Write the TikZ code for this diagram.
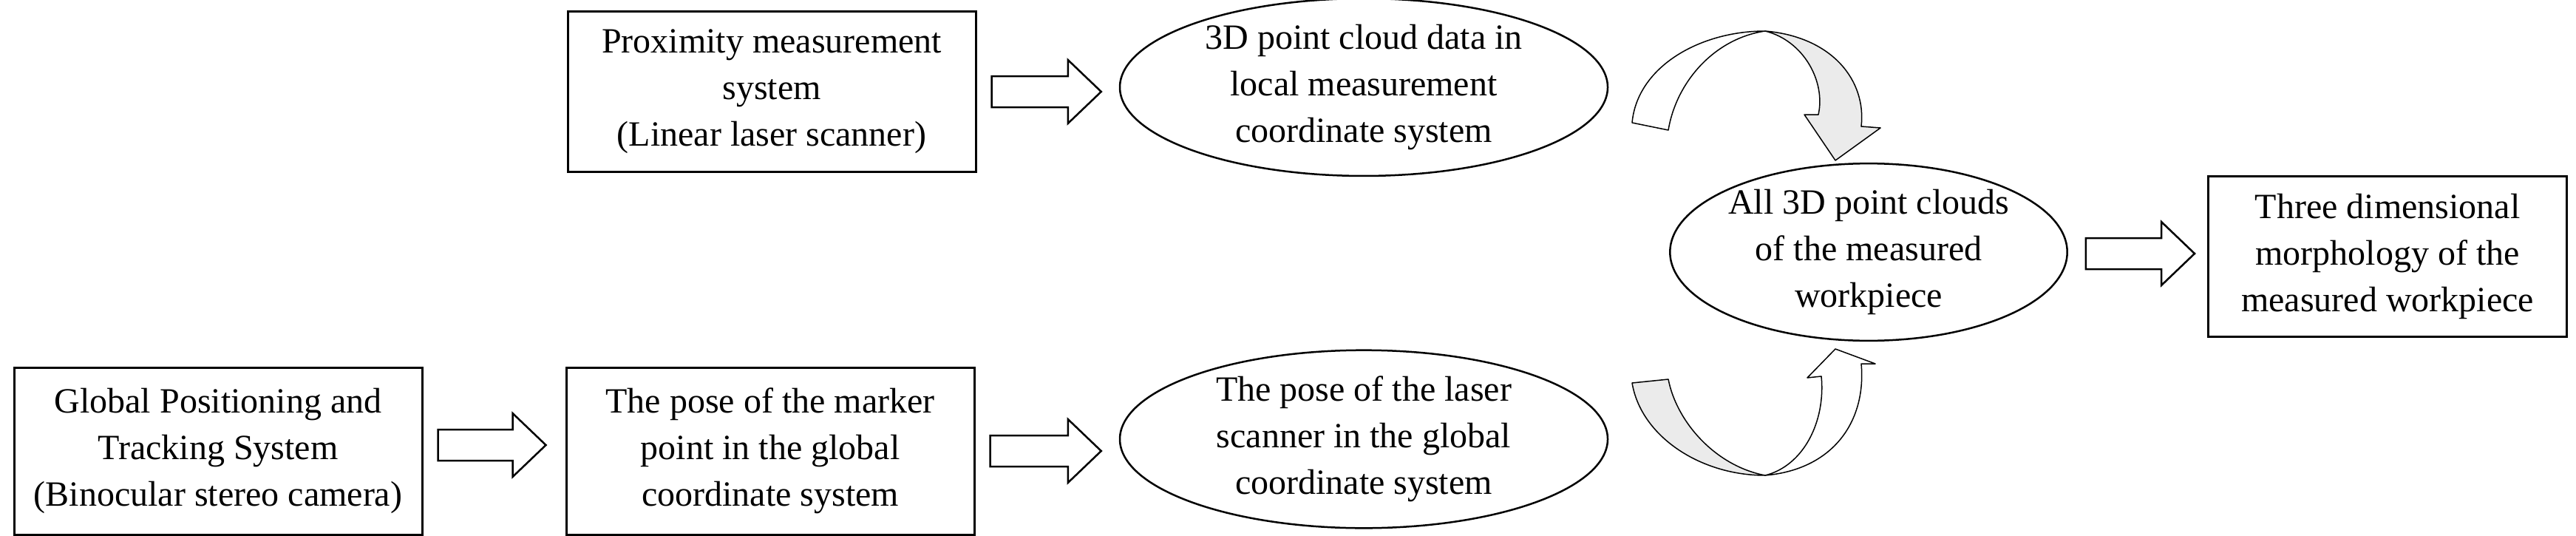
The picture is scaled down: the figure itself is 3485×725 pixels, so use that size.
\documentclass[tikz,border=0pt]{standalone}
\usepackage{fontspec}
\setmainfont{Liberation Serif}
\usetikzlibrary{shapes.geometric,calc}
\tikzset{
  box/.style={draw,line width=3pt,rectangle,inner sep=0pt,align=center,font=\fontsize{48}{63}\selectfont},
  ell/.style={draw,line width=2.5pt,ellipse,inner sep=0pt,align=center,font=\fontsize{48}{63}\selectfont},
  barrow/.style={draw,line width=2.5pt,fill=white,line join=miter},
  band/.style={draw,line width=1.5pt,line join=round}
}
\newcommand{\blockarr}[2]{%
  \draw[barrow] ($(#1)+(0,-21)$) -- ($(#2)+(-45,-21)$) -- ($(#2)+(-45,-43)$) -- (#2)
    -- ($(#2)+(-45,43)$) -- ($(#2)+(-45,21)$) -- ($(#1)+(0,21)$) -- cycle;}
\begin{document}
\begin{tikzpicture}[x=1pt,y=-1pt]
\useasboundingbox (0,0) rectangle (3485,725);
\node[box,minimum width=552,minimum height=216] (A) at (1044,124) {Proximity measurement\\system\\(Linear laser scanner)};
\node[box,minimum width=552,minimum height=226] (G) at (295,610) {Global Positioning and\\Tracking System\\(Binocular stereo camera)};
\node[box,minimum width=552,minimum height=226] (P) at (1042,610) {The pose of the marker\\point in the global\\coordinate system};
\node[ell,minimum width=660,minimum height=218] (E1) at (1845,118) {3D point cloud data in\\local measurement\\coordinate system};
\node[ell,minimum width=660,minimum height=218] (E2) at (1845,594) {The pose of the laser\\scanner in the global\\coordinate system};
\node[ell,minimum width=527,minimum height=216] (E3) at (2528,341) {All 3D point clouds\\of the measured\\workpiece};
\node[box,minimum width=485,minimum height=217] (F) at (3230,347) {Three dimensional\\morphology of the\\measured workpiece};

\coordinate (a1s) at ($(A.east)+(20,0)$); \coordinate (a1e) at ($(E1.west|-A.east)+(-24,0)$);
\coordinate (a2s) at ($(G.east)+(20,-8)$); \coordinate (a2e) at ($(P.west)+(-26,-8)$);
\coordinate (a3s) at ($(P.east)+(20,0)$); \coordinate (a3e) at ($(E2.west|-P.east)+(-24,0)$);
\coordinate (a4s) at ($(E3.east)+(24,2)$); \coordinate (a4e) at ($(F.west)+(-17,-4)$);
\blockarr{a1s}{a1e}
\blockarr{a2s}{a2e}
\blockarr{a3s}{a3e}
\blockarr{a4s}{a4e}

% top curved arrow
\coordinate (tt) at (2388,42);
\draw[band,fill=white] (2208,166) .. controls (2215,90) and (2300,42) .. (tt)
  .. controls (2320,52) and (2268,110) .. (2257,176) -- cycle;
\draw[band,fill=black!8] (tt) .. controls (2480,50) and (2525,110) .. (2518,171)
  -- (2544,173) -- (2483,217) -- (2441,155) -- (2460,155)
  .. controls (2470,110) and (2440,55) .. (tt) -- cycle;
% bottom curved arrow
\coordinate (bb) at (2388,643);
\draw[band,fill=black!8] (2208,518) .. controls (2220,590) and (2300,643) .. (bb)
  .. controls (2320,630) and (2268,570) .. (2257,513) -- cycle;
\draw[band,fill=white] (bb) .. controls (2480,635) and (2525,570) .. (2518,492)
  -- (2537,492) -- (2483,472) -- (2445,511) -- (2464,509)
  .. controls (2470,570) and (2440,630) .. (bb) -- cycle;
\end{tikzpicture}
\end{document}
